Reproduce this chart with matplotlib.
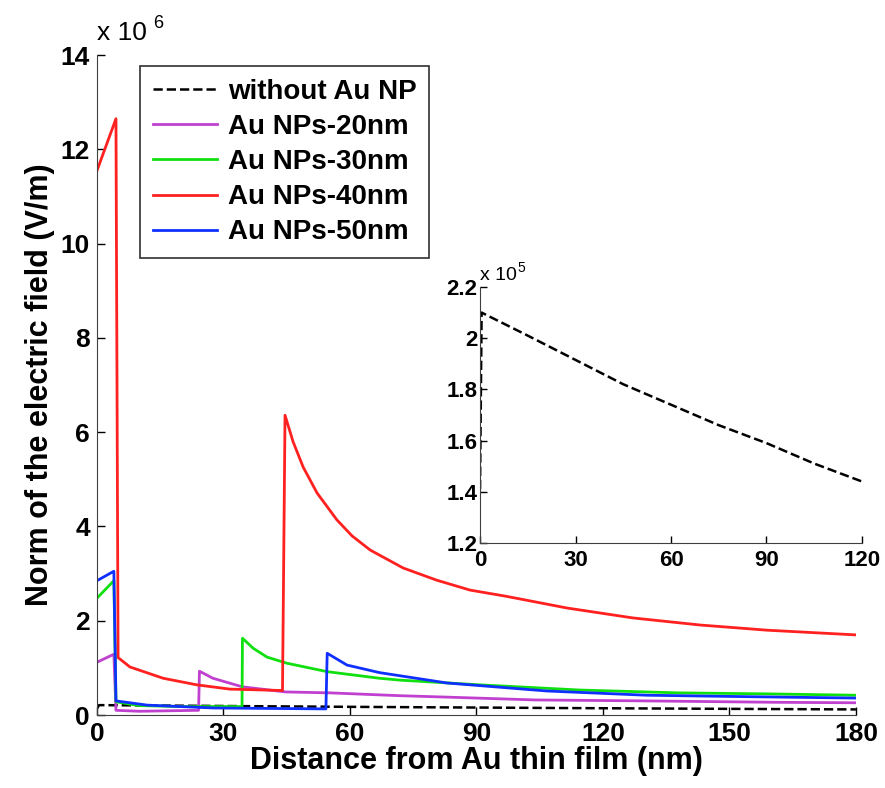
import matplotlib.pyplot as plt

plt.rcParams['font.family'] = ['Liberation Sans', 'DejaVu Sans']

# field values in units of 1e6 V/m
x_no_np = [0, 0.5, 15, 30, 45, 60, 75, 90, 105, 120, 150, 180]
y_no_np = [0.141, 0.210, 0.201, 0.1915, 0.182, 0.174, 0.166, 0.159, 0.151, 0.144, 0.131, 0.119]

x20 = [0, 4.0, 4.5, 10, 24.1, 24.3, 27.5, 34.4, 44.7, 55.3, 71.9, 83, 104, 130, 161, 180]
y20 = [1.12, 1.29, 0.10, 0.08, 0.10, 0.93, 0.78, 0.60, 0.49, 0.47, 0.41, 0.38, 0.32, 0.30, 0.27, 0.26]

x30 = [0, 4.0, 4.5, 10, 20, 34.4, 34.5, 37, 40.3, 45, 54.6, 67, 71.9, 90.9, 114.6, 138, 158, 180]
y30 = [2.48, 2.85, 0.28, 0.20, 0.18, 0.18, 1.63, 1.42, 1.23, 1.10, 0.92, 0.78, 0.74, 0.64, 0.53, 0.47, 0.45, 0.42]

x40 = [0, 4.5, 5.0, 7.8, 15.7, 23.7, 31.5, 44.0, 44.6, 46.5, 48.9, 52.2, 56.9, 60.5, 64.8, 72.6,
       80.6, 88.5, 97, 111.5, 127.1, 143, 158.9, 180]
y40 = [11.55, 12.65, 1.22, 1.02, 0.78, 0.64, 0.55, 0.52, 6.36, 5.80, 5.26, 4.71, 4.14, 3.80, 3.50, 3.12,
       2.86, 2.65, 2.52, 2.27, 2.06, 1.91, 1.80, 1.70]

x50 = [0, 4.0, 4.5, 11.9, 27.5, 54.3, 54.6, 59.3, 67, 83, 106.7, 130.4, 154, 180]
y50 = [2.85, 3.05, 0.30, 0.21, 0.15, 0.13, 1.31, 1.06, 0.90, 0.68, 0.51, 0.42, 0.39, 0.36]

labels = ['without Au NP', 'Au NPs-20nm', 'Au NPs-30nm', 'Au NPs-40nm', 'Au NPs-50nm']
colors = ['black', '#c040d0', '#10e010', '#ff2020', '#1030ff']

main_ticks = [0, 30, 60, 90, 120, 150, 180]
main_yticks = [0, 2, 4, 6, 8, 10, 12, 14]
inset_xticks = [0, 30, 60, 90, 120]
inset_yticks = [1.2, 1.4, 1.6, 1.8, 2.0, 2.2]
inset_ylabels = ['1.2', '1.4', '1.6', '1.8', '2', '2.2']

fig = plt.figure(figsize=(8.85, 7.88), dpi=100)
ax = fig.add_axes([0.1096, 0.0926, 0.8575, 0.8375])

ax.plot(x_no_np, y_no_np, '--', color=colors[0], lw=1.8, label=labels[0])
ax.plot(x20, y20, color=colors[1], lw=2, label=labels[1])
ax.plot(x30, y30, color=colors[2], lw=2, label=labels[2])
ax.plot(x40, y40, color=colors[3], lw=2, label=labels[3])
ax.plot(x50, y50, color=colors[4], lw=2, label=labels[4])

ax.set_xlim(0, 180)
ax.set_ylim(0, 14)
ax.set_xticks(main_ticks)
ax.set_yticks(main_yticks)
ax.tick_params(direction='in', length=6, labelsize=19, width=1, pad=5)
for t in ax.get_xticklabels() + ax.get_yticklabels():
    t.set_fontweight('bold')
ax.spines['top'].set_visible(False)
ax.spines['right'].set_visible(False)
for s in ['left', 'bottom']:
    ax.spines[s].set_color('#404040')
ax.set_xlabel('Distance from Au thin film (nm)', fontsize=22, fontweight='bold', labelpad=0)
ax.set_ylabel('Norm of the electric field (V/m)', fontsize=22, fontweight='bold', labelpad=4)

ax.text(0.0, 1.015, 'x 10', transform=ax.transAxes, fontsize=19, va='bottom', ha='left')
ax.text(0.074, 1.035, '6', transform=ax.transAxes, fontsize=13, va='bottom', ha='left')

leg = ax.legend(loc='upper left', bbox_to_anchor=(0.057, 0.983), borderaxespad=0,
                prop={'size': 20, 'weight': 'bold'}, handlelength=2.3, handletextpad=0.4,
                labelspacing=0.33, fancybox=False, framealpha=1, edgecolor='#303030',
                borderpad=0.45)
leg.get_frame().set_linewidth(1.2)

# inset
ins = fig.add_axes([0.5424, 0.311, 0.4316, 0.3248])
ins.plot(x_no_np, [v * 10 for v in y_no_np], '--', color='black', lw=1.8)
ins.set_xlim(0, 120)
ins.set_ylim(1.2, 2.2)
ins.set_xticks(inset_xticks)
ins.set_yticks(inset_yticks)
ins.set_yticklabels(inset_ylabels)
ins.tick_params(direction='in', length=5, labelsize=16, width=1, pad=2)
ins.tick_params(axis='x', pad=5)
for t in ins.get_xticklabels() + ins.get_yticklabels():
    t.set_fontweight('bold')
ins.spines['top'].set_visible(False)
ins.spines['right'].set_visible(False)
for s in ['left', 'bottom']:
    ins.spines[s].set_color('#404040')
ins.patch.set_alpha(0)
ins.text(0.0, 1.01, 'x 10', transform=ins.transAxes, fontsize=14, va='bottom', ha='left')
ins.text(0.097, 1.045, '5', transform=ins.transAxes, fontsize=10, va='bottom', ha='left')

fig.savefig('out.png', dpi=100)
